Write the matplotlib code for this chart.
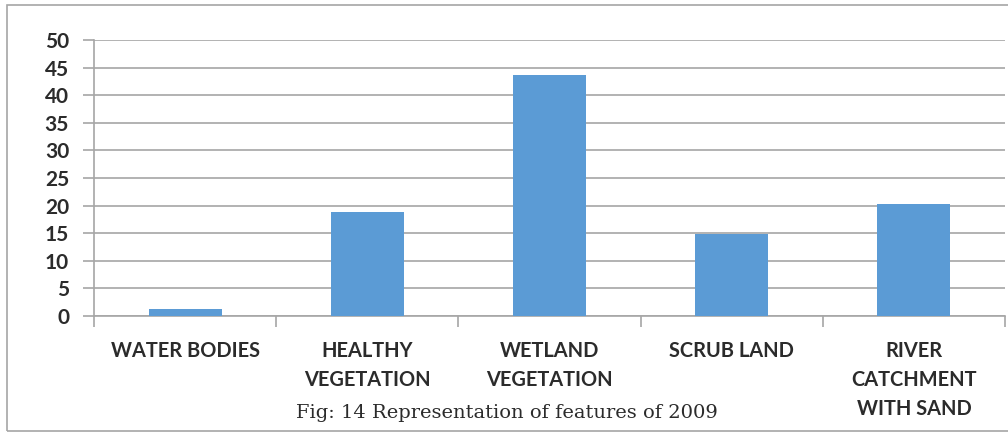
import matplotlib

matplotlib.use("Agg")
import matplotlib.pyplot as plt
import numpy as np
from matplotlib.patches import Rectangle

categories = [
    "WATER BODIES",
    "HEALTHY\nVEGETATION",
    "WETLAND\nVEGETATION",
    "SCRUB LAND",
    "RIVER\nCATCHMENT\nWITH SAND",
]
values = [1.2, 18.8, 43.7, 14.9, 20.3]
yticks = [0, 5, 10, 15, 20, 25, 30, 35, 40, 45, 50]
caption = "Fig: 14 Representation of features of 2009"

BAR = "#5b9bd5"
GRID = "#a6a6a6"
TEXT = "#2b2b2b"


def main() -> None:
    fig = plt.figure(figsize=(10.08, 4.32), dpi=100)
    ax = fig.add_axes([0.0933, 0.2685, 0.9037, 0.639])

    x = np.arange(len(categories))
    ax.bar(x, values, width=0.4, color=BAR, zorder=3)

    ax.set_xlim(-0.5, len(categories) - 0.5)
    ax.set_ylim(0, 50)
    ax.set_yticks(yticks)
    ax.set_yticklabels([str(v) for v in yticks], fontsize=15, fontweight="bold",
                       family="Lato", color=TEXT)
    ax.yaxis.grid(True, color=GRID, linewidth=1.2, zorder=0)

    # category labels sit under the bars, tick marks between categories
    ax.set_xticks(x)
    ax.set_xticklabels(categories, fontsize=14.4, fontweight="bold", family="Lato",
                       color=TEXT, linespacing=1.55)
    ax.tick_params(axis="x", length=0, pad=18)
    ax.set_xticks(np.arange(-0.5, len(categories)), minor=True)
    ax.tick_params(axis="x", which="minor", length=8, color=GRID, width=1.2,
                   direction="out")
    ax.tick_params(axis="y", length=8, color=GRID, width=1.2, pad=10)

    for side in ("top", "right"):
        ax.spines[side].set_visible(False)
    for side in ("left", "bottom"):
        ax.spines[side].set_color(GRID)
        ax.spines[side].set_linewidth(1.2)

    fig.text(0.503, 0.022, caption, ha="center", va="bottom", fontsize=14,
             family="DejaVu Serif", color=TEXT)

    # outer chart frame
    fig.patches.append(Rectangle((0.007, 0.003), 1.2, 0.985, transform=fig.transFigure,
                                 fill=False, edgecolor=GRID, linewidth=1.2))

    fig.savefig("out.png", dpi=100)
    plt.close(fig)


if __name__ == "__main__":
    main()
